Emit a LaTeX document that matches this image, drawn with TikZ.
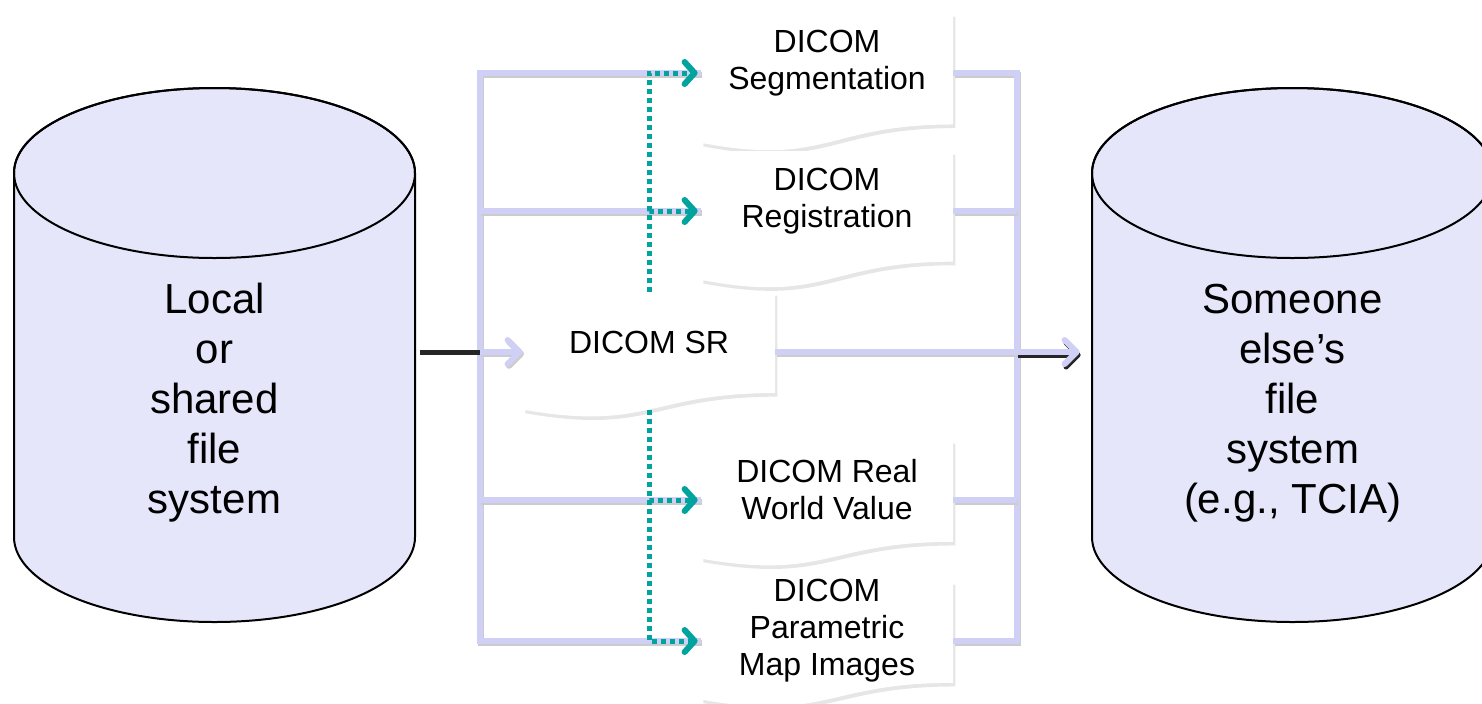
\documentclass[tikz,border=0pt]{standalone}
\usepackage{fontspec}
\setmainfont{Liberation Sans}
\usetikzlibrary{arrows.meta, shadows, calc}

\definecolor{dbfill}{RGB}{230,230,250}
\definecolor{busblue}{RGB}{208,208,246}
\definecolor{dotteal}{RGB}{0,163,158}

\tikzset{
  dbase/.style={minimum width=200.5pt, minimum height=267pt, inner sep=0pt},
  dbline/.style={draw=black, line width=1pt, fill=dbfill},
  dbtext/.style={align=center, font=\fontsize{21}{25}\selectfont},
  docbox/.style={minimum width=126pt, minimum height=50pt, inner sep=0pt, align=center,
    font=\fontsize{16}{18.5}\selectfont},
  docfill/.style={fill=white, drop shadow={shadow xshift=1.2pt, shadow yshift=-1.8pt, opacity=0.2}},
  busline/.style={draw=busblue, line width=3pt,
    preaction={draw=black!20, line width=3pt, transform canvas={shift={(0.7pt,-0.9pt)}}}},
  darkline/.style={draw=black!85, line width=2.5pt},
  lavtip/.style={-{Straight Barb[length=6pt,width=12pt,round]}},
  tealdot/.style={draw=dotteal, line width=2.5pt, dash pattern=on 2.5pt off 2pt,
    -{Straight Barb[length=5pt,width=11pt,line width=3pt,round]}, shorten >=1.5pt},
}

\begin{document}
\begin{tikzpicture}[x=0.5pt, y=0.5pt]
    \useasboundingbox (0,0) rectangle (1482,-703);
    % Databases
    \node[dbase] (LocalDB) at (214.5,-355) {};
    \node[dbase] (OtherDB) at (1292.5,-355) {};
    \foreach \d in {LocalDB,OtherDB} {
        \path[dbline, shift={(\d.center)}] (-200.5,182) -- (-200.5,-182)
            arc[start angle=180, end angle=360, x radius=200.5, y radius=85]
            -- (200.5,182) arc[start angle=0, end angle=180, x radius=200.5, y radius=85] -- cycle;
        \draw[line width=1pt, shift={(\d.center)}] (0,182) ellipse[x radius=200.5, y radius=85];
    }
    \node[dbtext] (LocalTxt) at (214.5,-403) {Local\\or\\shared\\file\\system};
    \node[dbtext] (OtherTxt) at (1292.5,-403) {Someone\\else’s\\file\\system\\(e.g., TCIA)};
    % Documents
    \foreach \n/\x/\y/\h/\t in {Seg/827/-63/139/{DICOM\\Segmentation},
                                Reg/827/-201/138/{DICOM\\Registration},
                                SR/649/-342/126/{DICOM SR},
                                RWV/827/-490/127/{DICOM Real\\World Value},
                                PM/827/-631/127/{DICOM\\Parametric\\Map Images}} {
        \fill[docfill, shift={(\x,\y)}] (-126,50) -- (126,50) -- (126,{50-0.802*\h})
            .. controls (0,{50-0.802*\h}) and (0,{50-1.107*\h}) .. (-126,{50-0.934*\h}) -- cycle;
        \node[docbox] (\n) at (\x,\y) {\t};
        \coordinate (\n-in) at ([yshift=-5pt]\n.west);
        \coordinate (\n-out) at ([yshift=-5pt]\n.east);
        \coordinate (\n-top) at (\x,{\y+50});
        \coordinate (\n-wave) at (\x,{\y+50-0.933*\h});
    }
    \coordinate (BusL) at (480,0);
    \coordinate (BusR) at (1017,0);
    % Bus lines
    \draw[busline] (Seg-in) -| (BusL |- PM-in) -- (PM-in);
    \foreach \n in {Reg,RWV} \draw[busline] (BusL |- \n-in) -- (\n-in);
    \draw[busline] (Seg-out) -| (BusR |- PM-out) -- (PM-out);
    \foreach \n in {Reg,RWV} \draw[busline] (\n-out) -- (BusR |- \n-out);
    % In and out of SR
    \draw[darkline, shorten <=2.5pt] (LocalDB.east |- SR-in) -- (BusL |- SR-in);
    \draw[busline, lavtip] (BusL |- SR-in) -- (SR-in);
    \draw[busline] (SR-out) -- (BusR |- SR-out);
    \draw[darkline, lavtip, shorten >=6pt, transform canvas={shift={(0.5pt,-1.5pt)}}]
        (BusR |- SR-out) -- (OtherDB.west |- SR-out);
    \draw[draw=busblue, line width=3pt, lavtip, shorten >=6pt] (BusR |- SR-out) -- (OtherDB.west |- SR-out);
    % Dotted links from SR
    \foreach \n in {Seg,Reg} \draw[tealdot] (SR-top) |- (\n-in);
    \foreach \n in {RWV,PM} \draw[tealdot] (SR-wave) |- (\n-in);
\end{tikzpicture}
\end{document}
